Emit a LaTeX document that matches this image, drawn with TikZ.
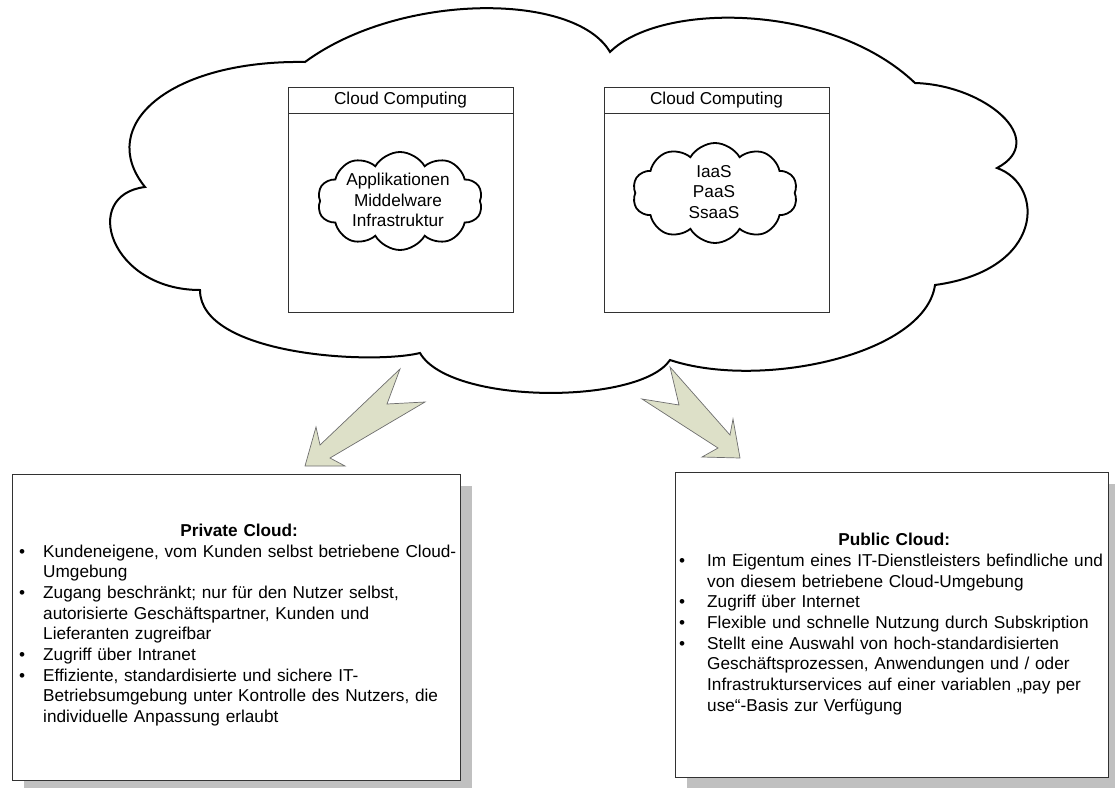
\documentclass[tikz,border=0pt]{standalone}
\usepackage{fontspec}
\setmainfont{Liberation Sans}
\usetikzlibrary{shapes.symbols,shadows}
\definecolor{arrowfill}{RGB}{221,224,200}
\definecolor{arrowline}{RGB}{110,110,110}
\definecolor{framegray}{RGB}{50,50,50}
\definecolor{shadowgray}{RGB}{192,192,192}
\newcommand{\cctext}{\fontsize{17.2}{20.7}\selectfont}
\newlength{\bulletwd}
\newcommand{\clpoint}[1]{\par\hangindent=\bulletwd\hangafter=1\noindent\makebox[\bulletwd][l]{\textbullet}#1\par}

\begin{document}
\begin{tikzpicture}[x=1pt,y=-1pt,font=\cctext,
  bigcloud/.style={draw=black,line width=2pt,fill=white},
  smallcloud/.style={cloud,cloud puffs=10,cloud puff arc=120,draw=black,line width=1.8pt,
    minimum width=165pt,minimum height=98pt,inner sep=0pt},
  ccframe/.style={draw=framegray,line width=0.8pt,minimum width=225pt,inner sep=0pt},
  infobox/.style={draw=framegray,line width=0.9pt,fill=white,
    drop shadow={shadow xshift=12pt,shadow yshift=-12pt,fill=shadowgray,opacity=1}},
  infotext/.style={anchor=west,inner sep=0pt},
  blockarrow/.style={fill=arrowfill,draw=arrowline,line width=0.7pt}]
  \useasboundingbox (0,0) rectangle (1115,787);
  % outer cloud
  \draw[bigcloud] (305,62)
    .. controls (400,-8) and (575,-8) .. (610,52)
    .. controls (660,2) and (830,2) .. (915,83)
    .. controls (985,85) and (1050,140) .. (997,168)
    .. controls (1045,185) and (1045,270) .. (935,285)
    .. controls (925,355) and (760,390) .. (670,360)
    .. controls (640,405) and (450,405) .. (420,353)
    .. controls (370,365) and (200,355) .. (200,290)
    .. controls (110,290) and (80,195) .. (145,187)
    .. controls (95,125) and (170,60) .. (305,62) -- cycle;
  % block arrows
  \draw[blockarrow] (400,369) -- (387,404) -- (425,402) -- (330,458) -- (345,466)
    -- (305,466) -- (316,427) -- (320,445) -- cycle;
  \draw[blockarrow] (670,367) -- (679,405) -- (642,399) -- (718,448) -- (702,457)
    -- (740,458) -- (733,419) -- (730,435) -- cycle;
  % cloud computing frames
  \foreach \nm/\cx in {priv/400.5,pub/716.5} {
    \node[ccframe,minimum height=225pt] (\nm-frame) at (\cx,199.5) {};
    \node[ccframe,minimum height=26pt,anchor=north] (\nm-head) at (\nm-frame.north) {Cloud Computing};
  }
  \node[smallcloud] (privcloud) at (400,201) {};
  \node[align=center] (privlayers) at (398,200) {Applikationen\\Middelware\\Infrastruktur};
  \node[smallcloud,minimum height=100pt] (pubcloud) at (715,193) {};
  \node[align=center] (pubmodels) at (714,192) {IaaS\\PaaS\\SsaaS};
  % description boxes
  \node[infobox,minimum width=448pt,minimum height=306pt] (privbox) at (236,627) {};
  \node[infotext,text width=440pt] (privtext) at (19,625) {\raggedright\setlength{\bulletwd}{24pt}%
    {\centering\bfseries Private Cloud:\par}
    \clpoint{Kundeneigene, vom Kunden selbst betriebene Cloud-\newline Umgebung}
    \clpoint{Zugang beschränkt; nur für den Nutzer selbst,\newline autorisierte Geschäftspartner, Kunden und\newline Lieferanten zugreifbar}
    \clpoint{Zugriff über Intranet}
    \clpoint{Effiziente, standardisierte und sichere IT-\newline Betriebsumgebung unter Kontrolle des Nutzers, die\newline individuelle Anpassung erlaubt}};
  \node[infobox,minimum width=433pt,minimum height=305pt] (pubbox) at (891.5,624.5) {};
  \node[infotext,text width=430pt] (pubtext) at (679,624) {\raggedright\setlength{\bulletwd}{28pt}%
    {\centering\bfseries Public Cloud:\par}
    \clpoint{Im Eigentum eines IT-Dienstleisters befindliche und\newline von diesem betriebene Cloud-Umgebung}
    \clpoint{Zugriff über Internet}
    \clpoint{Flexible und schnelle Nutzung durch Subskription}
    \clpoint{Stellt eine Auswahl von hoch-standardisierten\newline Geschäftsprozessen, Anwendungen und / oder\newline Infrastrukturservices auf einer variablen „pay per\newline use“-Basis zur Verfügung}};
\end{tikzpicture}
\end{document}
